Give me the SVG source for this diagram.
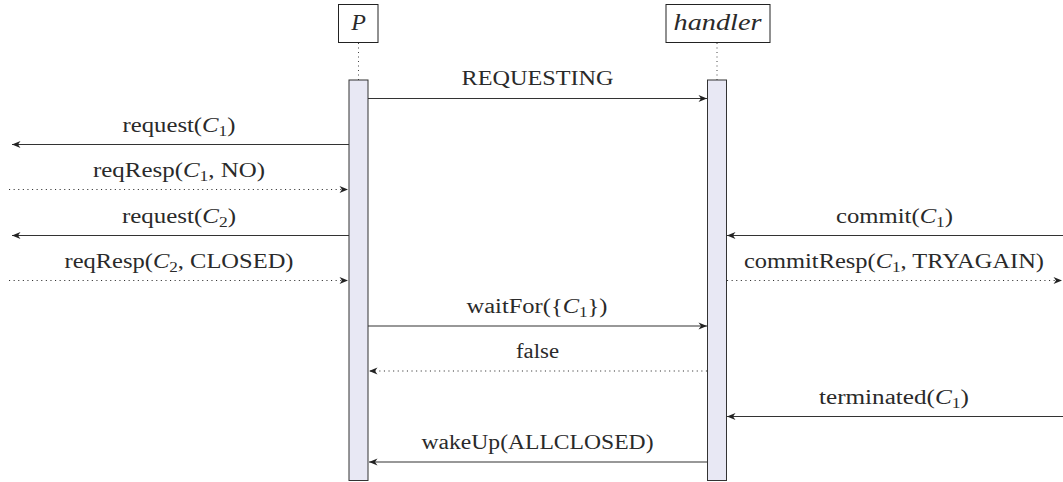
<svg xmlns="http://www.w3.org/2000/svg" width="1063" height="482" viewBox="0 0 1063 482">
<defs>
<style>
.box{fill:#fff;stroke:#222;stroke-width:1}
.bar{fill:#e8e8f4;stroke:#333;stroke-width:1}
.life{stroke:#444;stroke-width:1;stroke-dasharray:1 3.5;fill:none}
.msg{stroke:#333;stroke-width:1.1;fill:none;marker-end:url(#arr)}
.dot{stroke:#333;stroke-width:1.1;fill:none;stroke-dasharray:1.1 3.5;marker-end:url(#arr)}
text{font-family:"Liberation Serif","Times New Roman",serif;font-size:20px;fill:#2a2a2a;text-anchor:middle}
.it{font-style:italic}
.sub{font-size:14px}
</style>
<marker id="arr" viewBox="-9 -4 10 8" refX="0" refY="0" markerWidth="10" markerHeight="8" markerUnits="userSpaceOnUse" orient="auto">
<path d="M0,0 L-8.5,-3.4 L-6,0 L-8.5,3.4 Z" fill="#222"/>
</marker>
</defs>
<rect width="1063" height="482" fill="#fff"/>

<g id="P">
<rect class="box" x="338.5" y="4.5" width="39.5" height="38"/>
<text x="358.5" y="30" class="it" style="font-size:24px">P</text>
<line class="life" x1="358.5" y1="43" x2="358.5" y2="80"/>
<rect class="bar" x="349" y="80" width="19" height="400.5"/>
</g>

<g id="handler">
<rect class="box" x="666" y="4.5" width="104" height="38"/>
<text x="717.5" y="30" class="it" textLength="88" lengthAdjust="spacingAndGlyphs" style="font-size:23px">handler</text>
<line class="life" x1="717" y1="43" x2="717" y2="80"/>
<rect class="bar" x="707.5" y="80" width="19" height="400.5"/>
</g>

<g id="connectors">
<line class="msg" x1="368" y1="98.5" x2="707" y2="98.5"/>
<line class="msg" x1="349" y1="144.5" x2="12" y2="144.5"/>
<line class="dot" x1="9" y1="189.5" x2="348" y2="189.5"/>
<line class="msg" x1="349" y1="235.5" x2="12" y2="235.5"/>
<line class="dot" x1="9" y1="280.5" x2="348" y2="280.5"/>
<line class="msg" x1="1063" y1="235.5" x2="727" y2="235.5"/>
<line class="dot" x1="727" y1="280.5" x2="1062" y2="280.5"/>
<line class="msg" x1="368" y1="326" x2="707" y2="326"/>
<line class="dot" x1="707" y1="371" x2="369" y2="371"/>
<line class="msg" x1="1063" y1="416.5" x2="727" y2="416.5"/>
<line class="msg" x1="707" y1="462" x2="369" y2="462"/>
</g>

<g id="labels">
<text x="537.5" y="85" textLength="152" lengthAdjust="spacingAndGlyphs">REQUESTING</text>
<text x="179" y="131.5" textLength="113" lengthAdjust="spacingAndGlyphs">request(<tspan class="it">C</tspan><tspan class="sub" dy="4">1</tspan><tspan dy="-4">)</tspan></text>
<text x="179" y="176.5" textLength="172" lengthAdjust="spacingAndGlyphs">reqResp(<tspan class="it">C</tspan><tspan class="sub" dy="4">1</tspan><tspan dy="-4">, NO)</tspan></text>
<text x="179" y="222.5" textLength="114" lengthAdjust="spacingAndGlyphs">request(<tspan class="it">C</tspan><tspan class="sub" dy="4">2</tspan><tspan dy="-4">)</tspan></text>
<text x="179" y="267.5" textLength="229" lengthAdjust="spacingAndGlyphs">reqResp(<tspan class="it">C</tspan><tspan class="sub" dy="4">2</tspan><tspan dy="-4">, CLOSED)</tspan></text>
<text x="894.5" y="222.5" textLength="117" lengthAdjust="spacingAndGlyphs">commit(<tspan class="it">C</tspan><tspan class="sub" dy="4">1</tspan><tspan dy="-4">)</tspan></text>
<text x="894" y="267.5" textLength="300" lengthAdjust="spacingAndGlyphs">commitResp(<tspan class="it">C</tspan><tspan class="sub" dy="4">1</tspan><tspan dy="-4">, TRYAGAIN)</tspan></text>
<text x="537" y="313" textLength="141" lengthAdjust="spacingAndGlyphs">waitFor({<tspan class="it">C</tspan><tspan class="sub" dy="4">1</tspan><tspan dy="-4">})</tspan></text>
<text x="537.5" y="358" textLength="43" lengthAdjust="spacingAndGlyphs">false</text>
<text x="894" y="403.5" textLength="150" lengthAdjust="spacingAndGlyphs">terminated(<tspan class="it">C</tspan><tspan class="sub" dy="4">1</tspan><tspan dy="-4">)</tspan></text>
<text x="537.5" y="449" textLength="232" lengthAdjust="spacingAndGlyphs">wakeUp(ALLCLOSED)</text>
</g>
</svg>
